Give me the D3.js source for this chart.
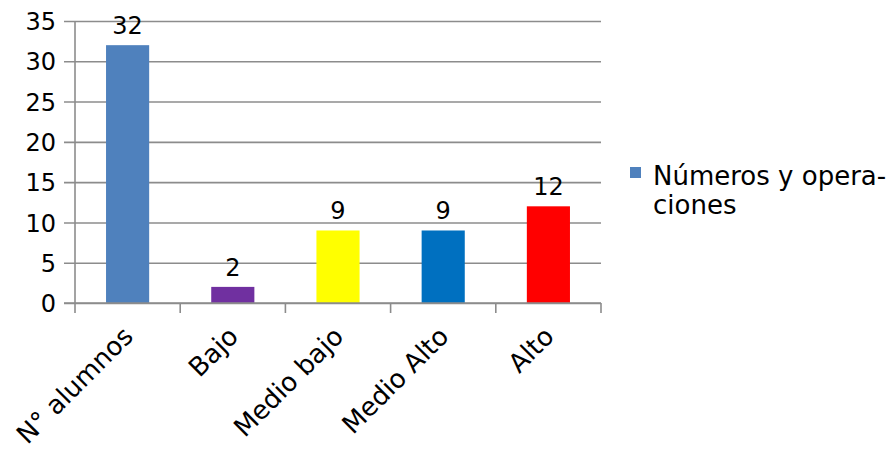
<!DOCTYPE html>
<html>
<head>
<meta charset="utf-8">
<script src="https://cdn.jsdelivr.net/npm/d3@7"></script>
<style>
  body { margin: 0; background: #fff; }
  svg text { font-family: "DejaVu Sans", sans-serif; fill: #000; }
</style>
</head>
<body>
<svg id="chart" width="891" height="449"></svg>
<script>
// Resultados por nivel – Números y operaciones
const categories = ["N° alumnos", "Bajo", "Medio bajo", "Medio Alto", "Alto"];
const values = [32, 2, 9, 9, 12];
const barColors = ["#4F81BD", "#7030A0", "#FFFF00", "#0070C0", "#FF0000"];
const yTicks = [0, 5, 10, 15, 20, 25, 30, 35];
const seriesName = ["Números y opera-", "ciones"];

const svg = d3.select("#chart");
const margin = { left: 75, right: 290, top: 21, bottom: 146 };
const W = 891, H = 449;
const plotW = W - margin.left - margin.right;
const plotH = H - margin.top - margin.bottom;
const gridColor = "#8c8c8c";
const fontSize = 24;
const bigFont = 26;

const x = d3.scaleBand().domain(categories).range([0, plotW]).paddingInner(0.59).paddingOuter(0.295);
const xEdges = d3.scaleLinear().domain([0, categories.length]).range([0, plotW]);
const y = d3.scaleLinear().domain([0, 35]).range([plotH, 0]);

const g = svg.append("g").attr("transform", `translate(${margin.left},${margin.top})`);

// horizontal gridlines with left tick marks
const yAxis = d3.axisLeft(y).tickValues(yTicks).tickSize(-plotW).tickPadding(19);
const ya = g.append("g").call(yAxis);
ya.select(".domain").remove();
ya.selectAll(".tick line").attr("stroke", gridColor).attr("stroke-width", 1.6).attr("x1", -11);
ya.selectAll(".tick text").attr("font-size", fontSize).attr("font-family", "DejaVu Sans").attr("fill", "#000").attr("dy", "0.36em");

// vertical axis line
g.append("line").attr("x1", 0).attr("x2", 0).attr("y1", 0).attr("y2", plotH + 10)
  .attr("stroke", gridColor).attr("stroke-width", 1.6);

// category boundary ticks
g.selectAll(".xtick").data(d3.range(1, categories.length + 1)).join("line")
  .attr("x1", i => xEdges(i)).attr("x2", i => xEdges(i))
  .attr("y1", plotH).attr("y2", plotH + 10)
  .attr("stroke", gridColor).attr("stroke-width", 1.6);

// bars
g.selectAll(".bar").data(values).join("rect")
  .attr("x", (d, i) => x(categories[i]))
  .attr("width", x.bandwidth())
  .attr("y", d => y(d))
  .attr("height", d => plotH - y(d))
  .attr("fill", (d, i) => barColors[i]);

// x axis line on top of bars
g.append("line").attr("x1", -11).attr("x2", plotW).attr("y1", plotH).attr("y2", plotH)
  .attr("stroke", gridColor).attr("stroke-width", 1.6);

// value labels
g.selectAll(".val").data(values).join("text")
  .attr("x", (d, i) => x(categories[i]) + x.bandwidth() / 2)
  .attr("y", d => y(d) - 11)
  .attr("text-anchor", "middle")
  .attr("font-size", fontSize)
  .text(d => d);

// rotated category labels
g.selectAll(".cat").data(categories).join("text")
  .attr("text-anchor", "end")
  .attr("font-size", bigFont)
  .attr("transform", d => `translate(${x(d) + x.bandwidth() / 2 + 7},${plotH + 35}) rotate(-45)`)
  .text(d => d);

// legend
const lg = svg.append("g").attr("transform", "translate(630,167)");
lg.append("rect").attr("width", 11).attr("height", 11).attr("fill", barColors[0]);
lg.selectAll("text").data(seriesName).join("text")
  .attr("x", 23).attr("y", (d, i) => 18 + i * 29)
  .attr("font-size", bigFont)
  .text(d => d);
</script>
</body>
</html>
